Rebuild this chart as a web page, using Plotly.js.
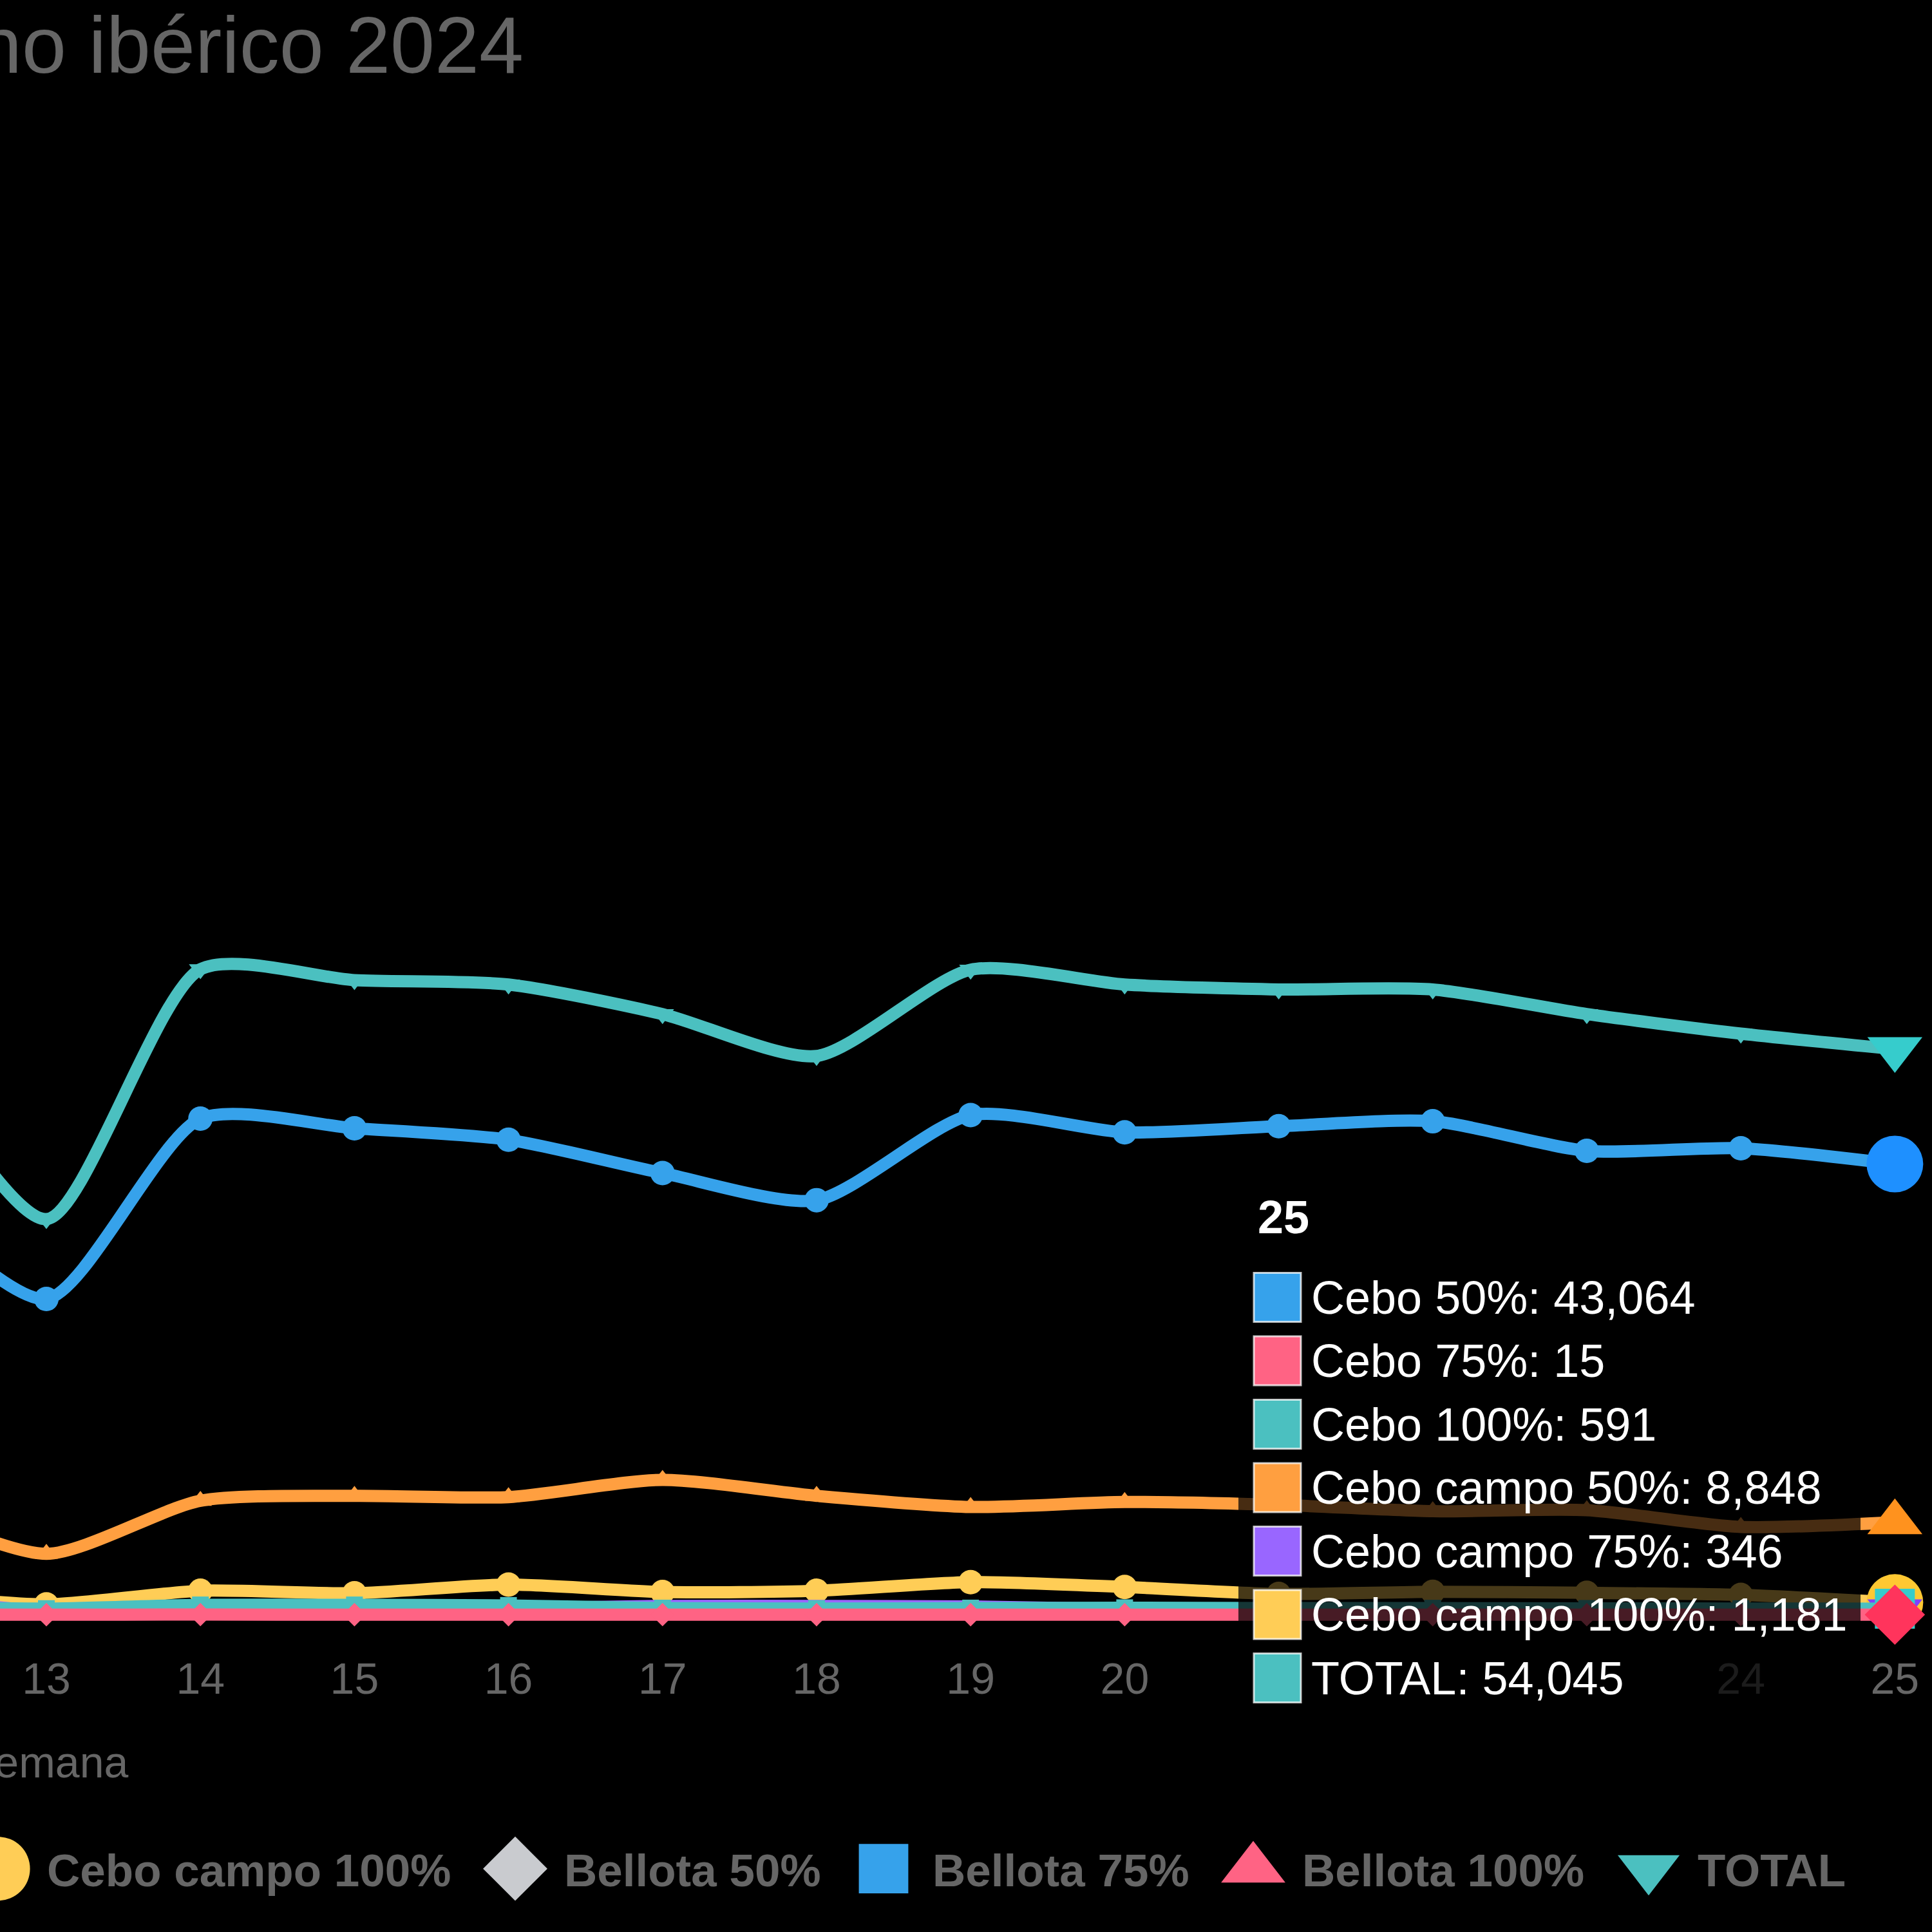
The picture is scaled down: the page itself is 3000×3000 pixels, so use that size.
<!DOCTYPE html>
<html>
<head>
<meta charset="utf-8">
<script src="https://cdn.plot.ly/plotly-3.0.1.min.js"></script>
<style>
  html, body { margin: 0; padding: 0; background: #000; }
  #chart { width: 3000px; height: 3000px; }
</style>
</head>
<body>
<div id="chart"></div>
<script>
// ---------- DATA ----------
const weeks = [12, 13, 14, 15, 16, 17, 18, 19, 20, 21, 22, 23, 24, 25];
const cebo50 = [41000, 30175, 47400, 46480, 45385, 42200, 39610, 47740, 46090, 46675, 47150, 44325, 44570, 43064];
const cebo75 = [30, 20, 25, 20, 18, 22, 20, 18, 16, 15, 17, 15, 14, 15];
const cebo100 = [800, 600, 950, 950, 900, 650, 600, 650, 680, 650, 640, 620, 600, 591];
const ceboCampo50 = [10900, 5830, 10895, 11370, 11250, 12895, 11370, 10305, 10780, 10500, 9900, 10000, 8400, 8848];
const ceboCampo75 = [1800, 380, 600, 600, 620, 850, 850, 800, 560, 480, 420, 380, 360, 346];
const ceboCampo100 = [2200, 1000, 2300, 2060, 2890, 2180, 2300, 3125, 2660, 2000, 2200, 2100, 1900, 1181];
const bellota50 = [null, null, null, null, null, null, null, null, null, null, null, null, null, null];
const bellota75 = [null, null, null, null, null, null, null, null, null, null, null, null, null, null];
const bellota100 = [null, null, null, null, null, null, null, null, null, null, null, null, null, null];
const total = [56500, 37800, 61670, 60630, 60215, 57390, 53385, 61625, 60215, 59740, 59740, 57390, 55520, 54045];
const seriesNames = ['Cebo 50%', 'Cebo 75%', 'Cebo 100%', 'Cebo campo 50%', 'Cebo campo 75%',
                     'Cebo campo 100%', 'Bellota 50%', 'Bellota 75%', 'Bellota 100%', 'TOTAL'];
const titleText = 'no ibérico 2024';
const xTitleText = 'Semana';
const HOVER_WEEK = 25;
// week labels that sit underneath the hover tooltip's rows (not visible in the original)
const ticksUnderTooltip = [21, 22, 23];

// ---------- STYLE ----------
const FONT = 'Liberation Sans, Arial, Helvetica, sans-serif';
const styles = [
  {color: '#36A2EB', hover: '#1E90FF', symbol: 'circle',        legend: false},
  {color: '#FF6384', hover: '#FF345C', symbol: 'diamond',       legend: false},
  {color: '#4BC0C0', hover: '#36CCCC', symbol: 'square',        legend: false},
  {color: '#FF9F40', hover: '#FF921E', symbol: 'triangle-up',   legend: false},
  {color: '#9966FF', hover: '#8040FF', symbol: 'triangle-down', legend: false},
  {color: '#FFCD56', hover: '#FFC832', symbol: 'circle',        legend: true, lw: 646},
  {color: '#C9CBCF', hover: '#C9CBCF', symbol: 'diamond',       legend: true, lw: 415},
  {color: '#36A2EB', hover: '#1E90FF', symbol: 'square',        legend: true, lw: 417},
  {color: '#FF6384', hover: '#FF345C', symbol: 'triangle-up',   legend: true, lw: 457},
  {color: '#4BC0C0', hover: '#36CCCC', symbol: 'triangle-down', legend: true, lw: 230}
];
const values = [cebo50, cebo75, cebo100, ceboCampo50, ceboCampo75, ceboCampo100,
                bellota50, bellota75, bellota100, total];
const SIZE_NORMAL = {'circle': 38, 'diamond': 28, 'square': 26, 'triangle-up': 31, 'triangle-down': 31};
const SIZE_HOVER  = {'circle': 88, 'diamond': 72, 'square': 62, 'triangle-up': 74, 'triangle-down': 74};
const LEGEND_SCALE = {'circle': 6.2, 'diamond': 4.8, 'square': 4.8, 'triangle-up': 5.4, 'triangle-down': 5.2};

const W = 3000, H = 3000, PLOT_BOTTOM = 2540;
const px = x => x / W;
const py = y => (PLOT_BOTTOM - y) / PLOT_BOTTOM;

// ---------- TRACES (reverse order so the first series is drawn on top) ----------
const series = seriesNames.map((name, i) => Object.assign({name: name, values: values[i]}, styles[i]));
const traces = series.slice().reverse().map(s => {
  const t = {
    type: 'scatter',
    mode: 'lines+markers',
    name: s.name,
    x: weeks,
    y: s.values,
    line: {color: s.color, width: 19, shape: 'spline', smoothing: 0.7},
    marker: {
      symbol: s.symbol,
      opacity: 1,
      size: weeks.map(w => w === HOVER_WEEK ? SIZE_HOVER[s.symbol] : SIZE_NORMAL[s.symbol]),
      color: weeks.map(w => w === HOVER_WEEK ? s.hover : s.color),
      line: {width: 0}
    },
    showlegend: s.legend,
    cliponaxis: false,
    hoverinfo: 'skip'
  };
  if (s.legend) t.legendwidth = s.lw;
  return t;
});

// ---------- TOOLTIP (built from the data at the hovered week) ----------
const TIP = {x0: 1923, x1: 2889, y0: 1836, y1: 2669, titleX: 1951, titleY: 1890,
             boxX: 1947, boxW: 73, boxH: 76, textX: 2034, row0: 2014.6, rowStep: 98.5};
const hi = weeks.indexOf(HOVER_WEEK);
const tipRows = series.filter(s => s.values[hi] !== null && s.values[hi] !== undefined);

const shapes = [{
  type: 'rect', xref: 'paper', yref: 'paper', layer: 'above',
  x0: px(TIP.x0), x1: px(TIP.x1), y0: py(TIP.y1), y1: py(TIP.y0),
  fillcolor: 'rgba(0,0,0,0.72)', line: {width: 0}
}];
const annotations = [{
  xref: 'paper', yref: 'paper', x: px(TIP.titleX), y: py(TIP.titleY),
  xanchor: 'left', yanchor: 'middle', showarrow: false, text: String(HOVER_WEEK),
  font: {family: FONT, size: 72, color: '#ffffff', weight: 'bold'}
}];
tipRows.forEach((s, i) => {
  const cy = TIP.row0 + i * TIP.rowStep;
  shapes.push({
    type: 'rect', xref: 'paper', yref: 'paper', layer: 'above',
    x0: px(TIP.boxX), x1: px(TIP.boxX + TIP.boxW),
    y0: py(cy + TIP.boxH / 2), y1: py(cy - TIP.boxH / 2),
    fillcolor: s.color, line: {color: 'rgba(255,255,255,0.75)', width: 3}
  });
  annotations.push({
    xref: 'paper', yref: 'paper', x: px(TIP.textX), y: py(cy),
    xanchor: 'left', yanchor: 'middle', showarrow: false,
    text: s.name + ': ' + s.values[hi].toLocaleString('en-US'),
    font: {family: FONT, size: 72, color: '#ffffff'}
  });
});
// x-axis title (left aligned, as in the original)
annotations.push({
  xref: 'paper', yref: 'paper', x: px(201), y: py(2736),
  xanchor: 'right', yanchor: 'middle', showarrow: false, text: xTitleText,
  font: {family: FONT, size: 68, color: '#666666'}
});

const layout = {
  width: W, height: H,
  paper_bgcolor: '#000000', plot_bgcolor: '#000000',
  margin: {l: 0, r: 0, t: 0, b: H - PLOT_BOTTOM, pad: 0, autoexpand: false},
  showlegend: true,
  title: {
    text: titleText, xref: 'container', yref: 'container',
    x: px(813), xanchor: 'right', y: 1 - 70 / H, yanchor: 'middle',
    font: {family: FONT, size: 124, color: '#666666'}
  },
  xaxis: {
    range: [12.699, 25.241], showgrid: false, zeroline: false, showline: false,
    ticks: '', tickmode: 'array', tickvals: weeks,
    ticktext: weeks.map(w => ticksUnderTooltip.includes(w) ? '' : String(w)),
    ticklabelstandoff: 21,
    tickfont: {family: FONT, size: 68, color: '#666666'}
  },
  yaxis: {range: [-1999, 154262], visible: false, showgrid: false, zeroline: false},
  legend: {
    orientation: 'h', x: -79 / W, xanchor: 'left', y: py(2902), yanchor: 'middle',
    traceorder: 'reversed', itemwidth: 142, bgcolor: 'rgba(0,0,0,0)', borderwidth: 0,
    font: {family: FONT, size: 71, color: '#666666', weight: 'bold'}
  },
  shapes: shapes,
  annotations: annotations,
  hovermode: false
};

Plotly.newPlot('chart', traces, layout, {staticPlot: true, displayModeBar: false}).then(gd => {
  // Chart.js-style legend: only the point style, drawn at font size
  gd.querySelectorAll('.legend .traces').forEach(g => {
    const d = g.__data__;
    const tr = d && d[0] && d[0].trace;
    const sym = tr && tr.marker ? tr.marker.symbol : 'circle';
    g.querySelectorAll('.legendlines path').forEach(p => p.remove());
    g.querySelectorAll('path.scatterpts').forEach(p => {
      const t = p.getAttribute('transform') || '';
      p.setAttribute('transform', t + ' scale(' + (LEGEND_SCALE[sym] || 5) + ')');
      p.style.opacity = 1;
    });
  });
});
</script>
</body>
</html>
